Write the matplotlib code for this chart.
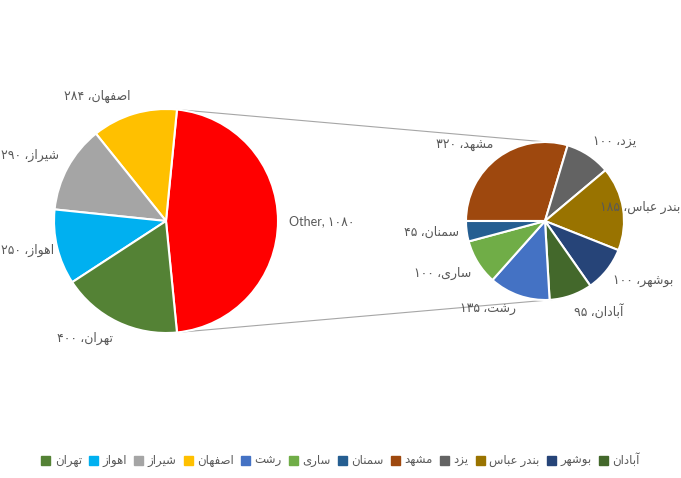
"""
Pie of pie chart: main cities and the breakdown of "Other".
"""

import unicodedata
import numpy as np
import matplotlib
matplotlib.use("Agg")
import matplotlib.pyplot as plt
from matplotlib.patches import Patch

# Data
main_names = ["Other", "اصفهان", "شیراز", "اهواز", "تهران"]
main_values = [1080, 284, 290, 250, 400]
main_colors = ["#FF0000", "#FFC000", "#A5A5A5", "#00B0F0", "#548235"]

sub_names = ["مشهد", "یزد", "بندر عباس", "بوشهر", "آبادان", "رشت", "ساری", "سمنان"]
sub_values = [320, 100, 185, 100, 95, 135, 100, 45]
sub_colors = ["#9E480E", "#636363", "#997300", "#264478", "#43682B",
              "#4472C4", "#70AD47", "#255E91"]

legend_names = ["تهران", "اهواز", "شیراز", "اصفهان", "رشت", "ساری", "سمنان",
                "مشهد", "یزد", "بندر عباس", "بوشهر", "آبادان"]

TEXT = "#595959"
FONT = ["Lato", "DejaVu Sans"]

# Arabic shaping (matplotlib does not join letters nor reorder RTL)
RIGHT_ONLY = set("اآدذرزژو")


def is_arabic(ch):
    return unicodedata.name(ch, "").startswith("ARABIC LETTER")


def form(ch, f):
    try:
        return unicodedata.lookup(unicodedata.name(ch) + " " + f + " FORM")
    except KeyError:
        return ch


def shape(word):
    out = []
    for i, ch in enumerate(word):
        if not is_arabic(ch):
            out.append(ch)
            continue
        prev = word[i - 1] if i > 0 else " "
        nxt = word[i + 1] if i + 1 < len(word) else " "
        jp = is_arabic(prev) and prev not in RIGHT_ONLY
        jn = is_arabic(nxt) and ch not in RIGHT_ONLY
        if jp and jn:
            out.append(form(ch, "MEDIAL"))
        elif jp:
            out.append(form(ch, "FINAL"))
        elif jn:
            out.append(form(ch, "INITIAL"))
        else:
            out.append(form(ch, "ISOLATED"))
    return "".join(out)[::-1]


def fa_digits(n):
    return str(n).translate(str.maketrans("0123456789", "۰۱۲۳۴۵۶۷۸۹"))


def label_text(name, value):
    if is_arabic(name[0]):
        return fa_digits(value) + " ،" + shape(name)
    return name + ", " + fa_digits(value)


W, H = 681, 478
fig = plt.figure(figsize=(W / 100, H / 100), dpi=100)
ax = fig.add_axes([0, 0, 1, 1])
ax.set_xlim(0, W)
ax.set_ylim(0, H)
ax.set_aspect("equal")
ax.axis("off")

c1, r1 = (166, H - 221), 112
c2, r2 = (545, H - 221), 79

start1 = -180 * main_values[0] / sum(main_values)
w1, _ = ax.pie(main_values, colors=main_colors, center=c1, radius=r1,
               startangle=start1, counterclock=True,
               wedgeprops=dict(edgecolor="white", linewidth=1.5))
w2, _ = ax.pie(sub_values, colors=sub_colors, center=c2, radius=r2,
               startangle=180, counterclock=False,
               wedgeprops=dict(edgecolor="white", linewidth=1.5))
ax.set_xlim(0, W)
ax.set_ylim(0, H)


def put_labels(wedges, names, values, center, r):
    texts = []
    for w, n, v in zip(wedges, names, values):
        mid = np.deg2rad((w.theta1 + w.theta2) / 2)
        x = center[0] + 1.1 * r * np.cos(mid)
        y = center[1] + 1.1 * r * np.sin(mid)
        ha = "left" if np.cos(mid) > 0 else "right"
        s = np.sin(mid)
        va = "bottom" if s > 0.4 else ("top" if s < -0.4 else "center")
        t = ax.text(x, y, label_text(n, v), ha=ha, va=va, fontsize=9,
                    color=TEXT, family=FONT)
        texts.append(t)
    return texts


main_texts = put_labels(w1, main_names, main_values, c1, r1)
sub_texts = put_labels(w2, sub_names, sub_values, c2, r2)

# keep labels inside the figure
fig.canvas.draw()
rend = fig.canvas.get_renderer()
for t in main_texts + sub_texts:
    bb = t.get_window_extent(rend)
    x, y = t.get_position()
    if bb.x1 > W - 1:
        t.set_position((x - (bb.x1 - W + 1), y))
    elif bb.x0 < 1:
        t.set_position((x + (1 - bb.x0), y))

# connector lines between Other slice and second pie
other = w1[0]
for a1, a2 in [(other.theta2, 81), (other.theta1, -85)]:
    p1 = (c1[0] + r1 * np.cos(np.deg2rad(a1)), c1[1] + r1 * np.sin(np.deg2rad(a1)))
    p2 = (c2[0] + r2 * np.cos(np.deg2rad(a2)), c2[1] + r2 * np.sin(np.deg2rad(a2)))
    ax.plot([p1[0], p2[0]], [p1[1], p2[1]], color="#A6A6A6", lw=0.8, zorder=0)

# legend, shrink the spacing until it fits the reference width (~600 px)
color_of = dict(zip(main_names + sub_names, main_colors + sub_colors))
handles = [Patch(color=color_of[n], label=shape(n)) for n in legend_names]
spacing = 1.1
while True:
    leg = fig.legend(handles=handles, loc="center",
                     bbox_to_anchor=(0.5, 1 - 460 / H),
                     ncol=len(handles), frameon=False,
                     handlelength=0.75, handleheight=0.75, handletextpad=0.4,
                     columnspacing=spacing, borderpad=0,
                     prop={"family": FONT, "size": 8.5})
    fig.canvas.draw()
    if leg.get_window_extent(rend).width <= 605 or spacing < 0.3:
        break
    leg.remove()
    spacing -= 0.05
for t in leg.get_texts():
    t.set_color(TEXT)

fig.savefig("out.png", dpi=100)
